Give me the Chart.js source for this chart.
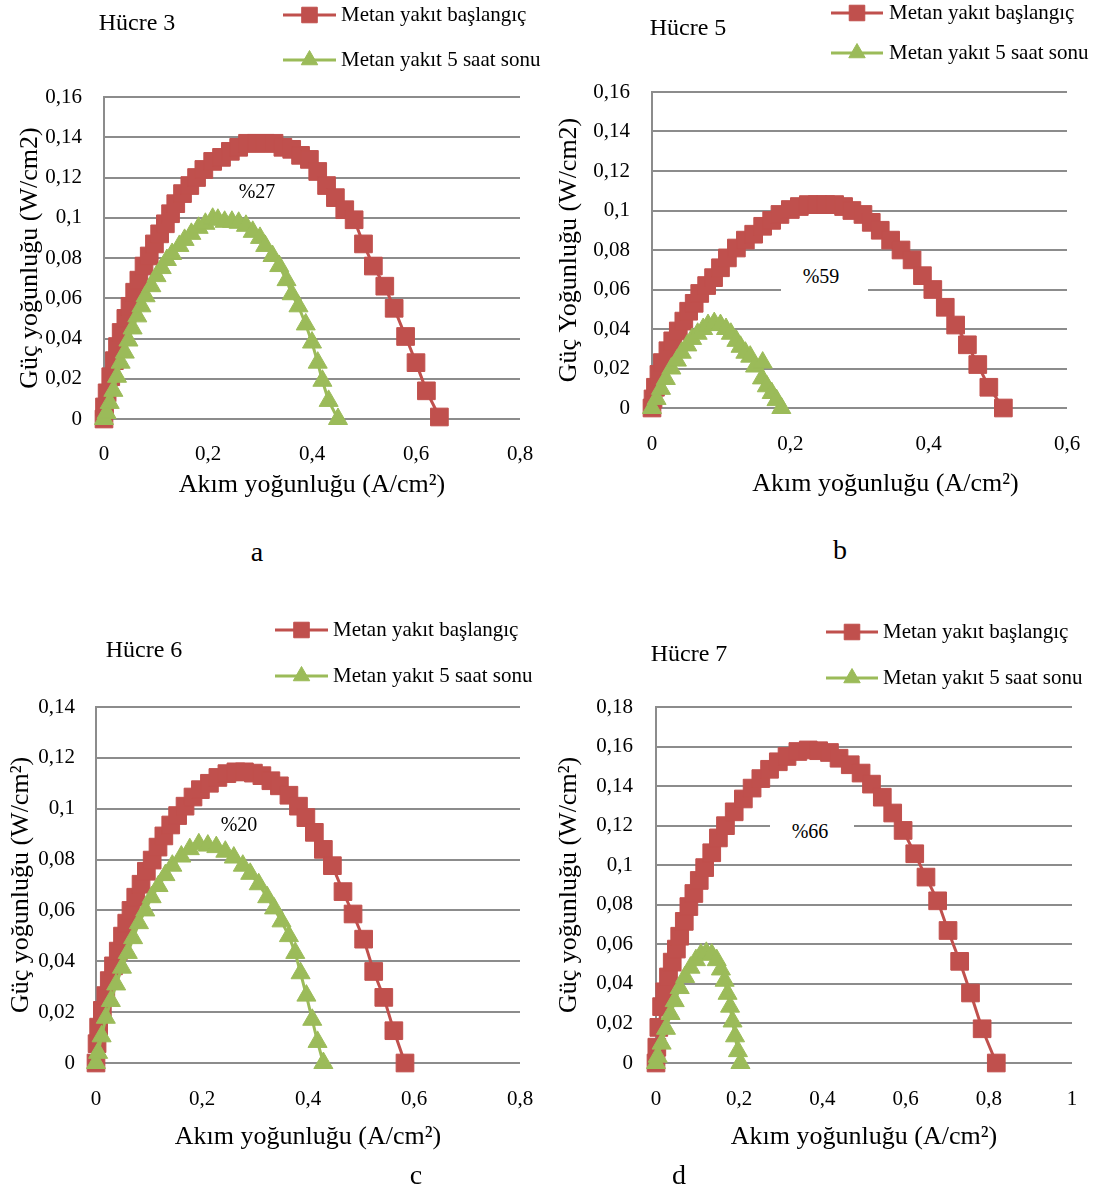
<!DOCTYPE html>
<html>
<head>
<meta charset="utf-8">
<script src="https://cdn.jsdelivr.net/npm/chart.js@4.4.0/dist/chart.umd.min.js"></script>
<style>
  body { margin: 0; background: #fff; width: 1101px; height: 1191px; position: relative; overflow: hidden;
         font-family: "Liberation Serif", "Times New Roman", serif; color: #000; }
  .panel { position: absolute; }
  .lbl { position: absolute; white-space: nowrap; transform: translate(-50%, -50%); line-height: 1; }
  .mask { position: absolute; background: #fff; }
</style>
</head>
<body>
<div class="panel" style="left:0;top:0;width:550px;height:505px"><canvas id="h3"></canvas></div>
<div class="panel" style="left:550px;top:0;width:551px;height:505px"><canvas id="h5"></canvas></div>
<div class="panel" style="left:0;top:600px;width:550px;height:560px"><canvas id="h6"></canvas></div>
<div class="panel" style="left:550px;top:600px;width:551px;height:560px"><canvas id="h7"></canvas></div>

<div class="mask" style="left:781px;top:262px;width:87px;height:30px"></div>
<div class="mask" style="left:770px;top:816px;width:84px;height:30px"></div>

<div class="lbl" style="left:137px;top:22px;font-size:24px">Hücre 3</div>
<div class="lbl" style="left:688px;top:27px;font-size:24px">Hücre 5</div>
<div class="lbl" style="left:144px;top:649px;font-size:24px">Hücre 6</div>
<div class="lbl" style="left:689px;top:653px;font-size:24px">Hücre 7</div>

<div class="lbl" style="left:257px;top:191px;font-size:20px">%27</div>
<div class="lbl" style="left:821px;top:276px;font-size:20px">%59</div>
<div class="lbl" style="left:239px;top:824px;font-size:20px">%20</div>
<div class="lbl" style="left:810px;top:831px;font-size:20px">%66</div>

<div class="lbl" style="left:257px;top:552px;font-size:28px">a</div>
<div class="lbl" style="left:840px;top:550px;font-size:28px">b</div>
<div class="lbl" style="left:416px;top:1175px;font-size:28px">c</div>
<div class="lbl" style="left:679px;top:1175px;font-size:28px">d</div>

<script>
// series labels
const seriesNames = ["Metan yakıt başlangıç", "Metan yakıt 5 saat sonu"];

// Hücre 3 : current density (A/cm2) / power density (W/cm2)
const h3StartI = [0, 0.001, 0.006, 0.013, 0.020, 0.026, 0.033, 0.042, 0.050, 0.059, 0.067, 0.077, 0.087, 0.097, 0.107, 0.118, 0.128, 0.138, 0.151, 0.165, 0.178, 0.192, 0.209, 0.226, 0.243, 0.259, 0.276, 0.293, 0.310, 0.327, 0.344, 0.361, 0.378, 0.395, 0.411, 0.428, 0.445, 0.463, 0.481, 0.499, 0.518, 0.540, 0.558, 0.580, 0.600, 0.620, 0.645];
const h3StartP = [0, 0.006, 0.013, 0.021, 0.029, 0.036, 0.043, 0.050, 0.056, 0.063, 0.069, 0.076, 0.081, 0.087, 0.092, 0.097, 0.102, 0.107, 0.112, 0.116, 0.120, 0.124, 0.128, 0.130, 0.133, 0.135, 0.137, 0.137, 0.137, 0.137, 0.135, 0.134, 0.131, 0.129, 0.123, 0.116, 0.110, 0.104, 0.099, 0.087, 0.076, 0.066, 0.055, 0.041, 0.028, 0.014, 0.001];
const h3EndI = [0, 0.005, 0.011, 0.018, 0.025, 0.032, 0.040, 0.047, 0.055, 0.064, 0.072, 0.080, 0.091, 0.101, 0.111, 0.121, 0.131, 0.145, 0.155, 0.168, 0.182, 0.195, 0.209, 0.219, 0.232, 0.246, 0.259, 0.273, 0.286, 0.300, 0.310, 0.324, 0.337, 0.351, 0.361, 0.374, 0.388, 0.400, 0.411, 0.420, 0.432, 0.450];
const h3EndP = [0, 0.003, 0.008, 0.014, 0.021, 0.028, 0.033, 0.039, 0.045, 0.051, 0.056, 0.061, 0.066, 0.071, 0.075, 0.079, 0.082, 0.086, 0.089, 0.092, 0.095, 0.097, 0.0995, 0.099, 0.098, 0.098, 0.0975, 0.096, 0.093, 0.090, 0.086, 0.081, 0.076, 0.069, 0.062, 0.056, 0.047, 0.038, 0.028, 0.019, 0.009, 0];

// Hücre 5
const h5StartI = [0, 0.0015, 0.005, 0.010, 0.015, 0.023, 0.030, 0.038, 0.046, 0.053, 0.061, 0.069, 0.079, 0.089, 0.099, 0.109, 0.122, 0.135, 0.147, 0.160, 0.173, 0.185, 0.200, 0.213, 0.226, 0.239, 0.251, 0.264, 0.277, 0.289, 0.305, 0.317, 0.330, 0.345, 0.360, 0.376, 0.391, 0.406, 0.424, 0.439, 0.456, 0.471, 0.487, 0.508];
const h5StartP = [0, 0.0046, 0.0105, 0.017, 0.023, 0.029, 0.034, 0.039, 0.044, 0.049, 0.053, 0.058, 0.062, 0.066, 0.071, 0.076, 0.081, 0.085, 0.088, 0.092, 0.095, 0.098, 0.1005, 0.102, 0.103, 0.103, 0.103, 0.103, 0.102, 0.100, 0.098, 0.094, 0.090, 0.085, 0.080, 0.075, 0.067, 0.060, 0.051, 0.042, 0.032, 0.022, 0.0105, 0];
const h5EndI = [0, 0.0066, 0.013, 0.020, 0.028, 0.036, 0.043, 0.051, 0.058, 0.066, 0.074, 0.081, 0.090, 0.099, 0.107, 0.114, 0.122, 0.128, 0.135, 0.142, 0.149, 0.160, 0.159, 0.166, 0.173, 0.180, 0.187];
const h5EndP = [0, 0.0046, 0.0097, 0.0147, 0.020, 0.024, 0.028, 0.0317, 0.035, 0.0376, 0.040, 0.042, 0.043, 0.042, 0.040, 0.0376, 0.034, 0.031, 0.028, 0.026, 0.021, 0.023, 0.015, 0.011, 0.0076, 0.004, 0];

// Hücre 6
const h6StartI = [0, 0.002, 0.005, 0.012, 0.0185, 0.025, 0.033, 0.042, 0.050, 0.058, 0.066, 0.075, 0.085, 0.095, 0.106, 0.117, 0.128, 0.141, 0.154, 0.168, 0.183, 0.197, 0.214, 0.230, 0.247, 0.264, 0.280, 0.297, 0.313, 0.330, 0.346, 0.364, 0.382, 0.396, 0.412, 0.429, 0.446, 0.466, 0.485, 0.505, 0.524, 0.543, 0.562, 0.583];
const h6StartP = [0, 0.0076, 0.0141, 0.0207, 0.0265, 0.0324, 0.0382, 0.044, 0.0499, 0.055, 0.060, 0.0652, 0.0703, 0.0754, 0.0798, 0.0849, 0.0893, 0.0936, 0.0973, 0.101, 0.1046, 0.1075, 0.110, 0.1123, 0.1138, 0.1145, 0.1145, 0.114, 0.113, 0.111, 0.109, 0.1053, 0.101, 0.0965, 0.0907, 0.084, 0.0776, 0.0674, 0.0586, 0.0487, 0.036, 0.0258, 0.0127, 0];
const h6EndI = [0, 0.004, 0.0106, 0.0185, 0.028, 0.038, 0.049, 0.060, 0.070, 0.081, 0.093, 0.105, 0.118, 0.131, 0.144, 0.161, 0.177, 0.194, 0.211, 0.227, 0.244, 0.260, 0.277, 0.291, 0.307, 0.323, 0.336, 0.350, 0.364, 0.376, 0.386, 0.397, 0.408, 0.418, 0.429];
const h6EndP = [0, 0.004, 0.0105, 0.0178, 0.0244, 0.0309, 0.0375, 0.0433, 0.0491, 0.055, 0.060, 0.0652, 0.0696, 0.0739, 0.0776, 0.0812, 0.0841, 0.086, 0.0855, 0.0849, 0.0831, 0.0808, 0.0776, 0.0744, 0.0703, 0.0652, 0.0608, 0.0557, 0.0499, 0.0433, 0.0353, 0.0265, 0.017, 0.0083, 0];

// Hücre 7
const h7StartI = [0, 0.002, 0.0068, 0.0135, 0.021, 0.030, 0.039, 0.049, 0.057, 0.068, 0.079, 0.091, 0.104, 0.117, 0.134, 0.150, 0.167, 0.188, 0.210, 0.231, 0.252, 0.273, 0.294, 0.315, 0.341, 0.366, 0.391, 0.417, 0.440, 0.467, 0.493, 0.518, 0.544, 0.569, 0.594, 0.622, 0.649, 0.677, 0.702, 0.730, 0.756, 0.784, 0.818];
const h7StartP = [0, 0.008, 0.018, 0.0285, 0.036, 0.0435, 0.051, 0.0576, 0.0641, 0.0716, 0.0791, 0.0857, 0.0923, 0.0988, 0.1063, 0.1138, 0.120, 0.127, 0.1335, 0.139, 0.1438, 0.1485, 0.1523, 0.155, 0.1575, 0.1583, 0.1579, 0.157, 0.1541, 0.1508, 0.1466, 0.141, 0.1344, 0.1264, 0.1176, 0.1058, 0.094, 0.082, 0.067, 0.0514, 0.0354, 0.0173, 0];
const h7EndI = [0, 0.004, 0.0135, 0.024, 0.035, 0.045, 0.057, 0.070, 0.083, 0.096, 0.108, 0.121, 0.134, 0.146, 0.156, 0.165, 0.172, 0.178, 0.184, 0.190, 0.197, 0.203];
const h7EndP = [0, 0.0032, 0.0098, 0.0173, 0.0248, 0.0313, 0.0379, 0.0435, 0.0482, 0.052, 0.0548, 0.0557, 0.0548, 0.052, 0.0473, 0.0416, 0.035, 0.0285, 0.021, 0.0135, 0.006, 0];

const RED = "#C0504D";
const GREEN = "#9BBB59";
const GRID = "#8c8c8c";
const FONT = "'Liberation Serif', 'Times New Roman', serif";

const comma = v => String(Math.round(v * 1000) / 1000).replace(".", ",");
const pts = (xs, ys) => xs.map((x, i) => ({ x: x, y: ys[i] }));

function marker(ctx, style, r, x, y, color) {
  ctx.fillStyle = color;
  ctx.strokeStyle = color;
  ctx.lineWidth = 1;
  ctx.beginPath();
  if (style === "rect") {
    const s = r * Math.SQRT1_2;
    ctx.rect(x - s, y - s, 2 * s, 2 * s);
  } else {
    for (let k = 0; k < 3; k++) {
      const a = k * 2 * Math.PI / 3;
      const px = x + Math.sin(a) * r, py = y - Math.cos(a) * r;
      k ? ctx.lineTo(px, py) : ctx.moveTo(px, py);
    }
    ctx.closePath();
  }
  ctx.fill();
  ctx.stroke();
}

// excel style legend: short line with a marker, then the text
const lineLegend = {
  id: "lineLegend",
  afterDraw(chart, args, opts) {
    const ctx = chart.ctx;
    chart.data.datasets.forEach((ds, i) => {
      const y = opts.rows[i];
      ctx.save();
      ctx.strokeStyle = ds.borderColor;
      ctx.lineWidth = ds.borderWidth;
      ctx.beginPath();
      ctx.moveTo(opts.x1, y);
      ctx.lineTo(opts.x2, y);
      ctx.stroke();
      marker(ctx, ds.pointStyle, ds.pointRadius - 1.5, (opts.x1 + opts.x2) / 2, y, ds.borderColor);
      ctx.fillStyle = "#000";
      ctx.font = "21px " + FONT;
      ctx.textBaseline = "middle";
      ctx.fillText(ds.label, opts.textX, y);
      ctx.restore();
    });
  }
};

function draw(id, p) {
  new Chart(document.getElementById(id), {
    type: "line",
    data: {
      datasets: [
        { label: seriesNames[0], data: pts(p.startI, p.startP), borderColor: RED, backgroundColor: RED,
          borderWidth: 3, pointStyle: "rect", pointRadius: 12.5, pointBorderWidth: 1, order: 2, clip: false },
        { label: seriesNames[1], data: pts(p.endI, p.endP), borderColor: GREEN, backgroundColor: GREEN,
          borderWidth: 3, pointStyle: "triangle", pointRadius: 11, pointBorderWidth: 1, order: 1, clip: false }
      ]
    },
    options: {
      responsive: true,
      maintainAspectRatio: false,
      animation: false,
      layout: { padding: { left: 0, top: p.padTop, right: p.padRight, bottom: 0 } },
      plugins: {
        legend: { display: false },
        tooltip: { enabled: false },
        lineLegend: p.legend
      },
      scales: {
        x: {
          type: "linear", min: 0, max: p.xMax,
          afterFit: s => { s.height = p.xHeight; s.paddingLeft = 0; s.paddingRight = 0; },
          grid: { display: false, drawTicks: false },
          border: { display: false },
          ticks: { stepSize: 0.2, padding: p.xTickPad, color: "#000", font: { family: FONT, size: 21 }, callback: comma },
          title: { display: true, text: p.xTitle, color: "#000", font: { family: FONT, size: 26 },
                   padding: { top: 0, bottom: p.xTitlePad } }
        },
        y: {
          min: 0, max: p.yMax,
          afterFit: s => { s.width = p.yWidth; },
          grid: { color: GRID, lineWidth: 2, drawTicks: false },
          border: { display: true, color: GRID, width: 2 },
          ticks: { stepSize: 0.02, padding: p.yTickPad, color: "#000", font: { family: FONT, size: 21 }, callback: comma },
          title: { display: true, text: p.yTitle, color: "#000", font: { family: FONT, size: 26 },
                   padding: { top: p.yTitlePad, bottom: 0 } }
        }
      }
    },
    plugins: [lineLegend]
  });
}

draw("h3", {
  startI: h3StartI, startP: h3StartP, endI: h3EndI, endP: h3EndP,
  xMax: 0.8, yMax: 0.16, padTop: 97, padRight: 30, xHeight: 86, yWidth: 104,
  xTickPad: 23, yTickPad: 22, xTitlePad: 4, yTitlePad: 15,
  xTitle: "Akım yoğunluğu (A/cm²)", yTitle: "Güç yoğunluğu (W/cm2)",
  legend: { x1: 283, x2: 336, textX: 341, rows: [15, 60] }
});
draw("h5", {
  startI: h5StartI, startP: h5StartP, endI: h5EndI, endP: h5EndP,
  xMax: 0.6, yMax: 0.16, padTop: 92, padRight: 34, xHeight: 97, yWidth: 102,
  xTickPad: 24, yTickPad: 22, xTitlePad: 5, yTitlePad: 4,
  xTitle: "\u2002\u2002\u2002\u2002Akım yoğunluğu (A/cm²)", yTitle: "Güç Yoğunluğu (W/cm2)",
  legend: { x1: 281, x2: 333, textX: 339, rows: [13, 53] }
});
draw("h6", {
  startI: h6StartI, startP: h6StartP, endI: h6EndI, endP: h6EndP,
  xMax: 0.8, yMax: 0.14, padTop: 107, padRight: 30, xHeight: 97, yWidth: 96,
  xTickPad: 24, yTickPad: 21, xTitlePad: 7, yTitlePad: 6,
  xTitle: "Akım yoğunluğu (A/cm²)", yTitle: "Güç yoğunluğu (W/cm²)",
  legend: { x1: 275, x2: 328, textX: 333, rows: [30, 76] }
});
draw("h7", {
  startI: h7StartI, startP: h7StartP, endI: h7EndI, endP: h7EndP,
  xMax: 1, yMax: 0.18, padTop: 107, padRight: 29, xHeight: 97, yWidth: 106,
  xTickPad: 24, yTickPad: 23, xTitlePad: 7, yTitlePad: 4,
  xTitle: "Akım yoğunluğu (A/cm²)", yTitle: "Güç yoğunluğu (W/cm²)",
  legend: { x1: 276, x2: 328, textX: 333, rows: [32, 78] }
});
</script>
</body>
</html>
